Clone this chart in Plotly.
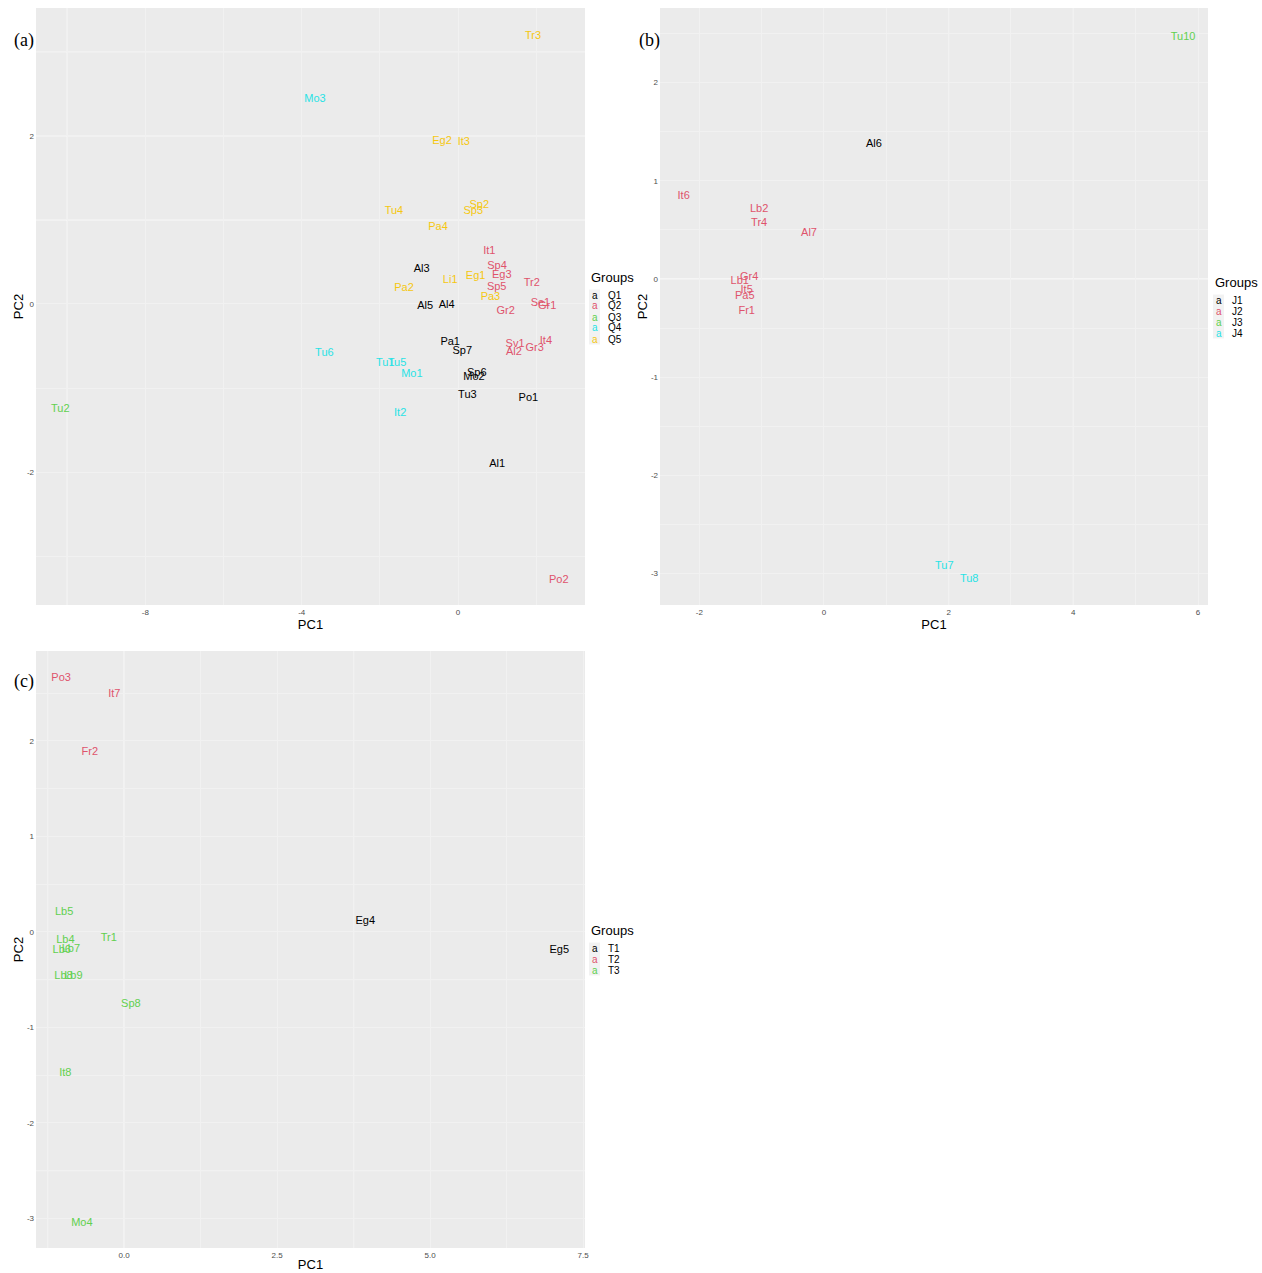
import plotly.graph_objects as go

W, H = 1262, 1273

# ---------------- data ----------------
# Panel (a)
a_labels = ["Al3", "Al5", "Al4", "Pa1", "Sp7", "Sp6", "Mo2", "Tu3", "Po1", "Al1",
            "It1", "Sp4", "Eg3", "Tr2", "Sp5", "Se1", "Gr1", "Gr2", "Sv1", "Al2", "Gr3", "It4", "Po2",
            "Tu2",
            "Mo3", "Tu6", "Tu1", "Tu5", "Mo1", "It2",
            "Tr3", "Eg2", "It3", "Tu4", "Sp2", "Sp3", "Pa4", "Eg1", "Li1", "Pa2", "Pa3"]
a_pc1 = [-0.93, -0.84, -0.29, -0.20, 0.11, 0.48, 0.41, 0.24, 1.80, 1.00,
         0.80, 1.00, 1.12, 1.89, 0.99, 2.11, 2.28, 1.22, 1.46, 1.43, 1.96, 2.25, 2.58,
         -10.18,
         -3.66, -3.42, -1.86, -1.56, -1.18, -1.48,
         1.92, -0.41, 0.15, -1.64, 0.545, 0.39, -0.51, 0.45, -0.20, -1.38, 0.83]
a_pc2 = [0.41, -0.03, -0.02, -0.45, -0.56, -0.82, -0.87, -1.085, -1.12, -1.91,
         0.63, 0.45, 0.34, 0.25, 0.20, 0.01, -0.03, -0.09, -0.48, -0.57, -0.53, -0.44, -3.28,
         -1.25,
         2.43, -0.58, -0.70, -0.70, -0.84, -1.30,
         3.18, 1.94, 1.92, 1.10, 1.18, 1.10, 0.91, 0.335, 0.28, 0.19, 0.085]
a_group = (["Q1"] * 10 + ["Q2"] * 13 + ["Q3"] * 1 + ["Q4"] * 6 + ["Q5"] * 11)
a_groups = ["Q1", "Q2", "Q3", "Q4", "Q5"]
a_colors = ["#000000", "#DF536B", "#61D04F", "#28E2E5", "#F5C710"]

# Panel (b)
b_labels = ["Al6", "It6", "Lb2", "Tr4", "Al7", "Gr4", "Lb1", "It5", "Pa5", "Fr1", "Tu10", "Tu7", "Tu8"]
b_pc1 = [0.80, -2.25, -1.04, -1.04, -0.24, -1.20, -1.35, -1.24, -1.27, -1.24, 5.76, 1.93, 2.33]
b_pc2 = [1.375, 0.845, 0.71, 0.57, 0.47, 0.02, -0.02, -0.11, -0.18, -0.33, 2.46, -2.93, -3.06]
b_group = ["J1"] + ["J2"] * 9 + ["J3"] + ["J4"] * 2
b_groups = ["J1", "J2", "J3", "J4"]
b_colors = ["#000000", "#DF536B", "#61D04F", "#28E2E5"]

# Panel (c)
c_labels = ["Eg4", "Eg5", "Po3", "It7", "Fr2",
            "Lb5", "Lb4", "Tr1", "Lb6", "Lb7", "Lb8", "Lb9", "Sp8", "It8", "Mo4"]
c_pc1 = [3.94, 7.11, -1.03, -0.16, -0.56,
         -0.98, -0.96, -0.25, -1.02, -0.87, -0.99, -0.83, 0.11, -0.96, -0.69]
c_pc2 = [0.115, -0.19, 2.65, 2.49, 1.885,
         0.21, -0.09, -0.07, -0.19, -0.18, -0.47, -0.47, -0.76, -1.48, -3.05]
c_group = ["T1"] * 2 + ["T2"] * 3 + ["T3"] * 10
c_groups = ["T1", "T2", "T3"]
c_colors = ["#000000", "#DF536B", "#61D04F"]

# ---------------- layout helpers ----------------
BG = "#EBEBEB"
FAINT = "#F1F1F1"
FONT = "Liberation Sans"


def px_x(p):
    return p / W


def px_y(p):
    return 1 - p / H


panels = [
    dict(key="", tag="(a)", labels=a_labels, pc1=a_pc1, pc2=a_pc2, group=a_group,
         groups=a_groups, colors=a_colors,
         box=(36, 585, 8, 605), xr=[-10.8, 3.25], yr=[-3.58, 3.52],
         xt=[-8, -4, 0], yt=[-2, 0, 2], xminor=2, yminor=1, xfmt="",
         strong_x=[-10], strong_y=[3, 2, 1],
         legend=(589, 277, 295), tagpos=(24, 41)),
    dict(key="2", tag="(b)", labels=b_labels, pc1=b_pc1, pc2=b_pc2, group=b_group,
         groups=b_groups, colors=b_colors,
         box=(660, 1208, 8, 605), xr=[-2.63, 6.16], yr=[-3.32, 2.76],
         xt=[-2, 0, 2, 4, 6], yt=[-3, -2, -1, 0, 1, 2], xminor=1, yminor=0.5, xfmt="",
         strong_x=[2, 4], strong_y=[2.5, 0, -2.5],
         legend=(1213, 282, 300), tagpos=(649, 40)),
    dict(key="3", tag="(c)", labels=c_labels, pc1=c_pc1, pc2=c_pc2, group=c_group,
         groups=c_groups, colors=c_colors,
         box=(36, 585, 651, 1248), xr=[-1.44, 7.53], yr=[-3.31, 2.94],
         xt=[0, 2.5, 5, 7.5], yt=[-3, -2, -1, 0, 1, 2], xminor=1.25, yminor=0.5, xfmt=".1f",
         strong_x=[-1.25, 3.75, 0], strong_y=[1.5, -0.5, -2.5],
         legend=(589, 930, 948), tagpos=(24, 682)),
]

fig = go.Figure()
annotations = []
shapes = []

for p in panels:
    k = p["key"]
    xa = "x" + k
    ya = "y" + k
    cmap = dict(zip(p["groups"], p["colors"]))
    for g in p["groups"]:
        idx = [i for i, gg in enumerate(p["group"]) if gg == g]
        fig.add_trace(go.Scatter(
            x=[p["pc1"][i] for i in idx],
            y=[p["pc2"][i] for i in idx],
            text=[p["labels"][i] for i in idx],
            mode="text",
            textposition="middle center",
            textfont=dict(family=FONT, size=11, color=cmap[g]),
            showlegend=False,
            xaxis=xa, yaxis=ya,
            hoverinfo="text",
        ))

    x0, x1, y0, y1 = p["box"]
    common = dict(showline=False, zeroline=False, showgrid=True, gridcolor=FAINT, gridwidth=1,
                  ticks="", ticklabelstandoff=1,
                  tickfont=dict(family=FONT, size=8, color="#4D4D4D"),
                  automargin=False, fixedrange=True)
    xaxis = dict(domain=[px_x(x0), px_x(x1)], range=p["xr"], tickmode="array",
                 tickvals=p["xt"],
                 ticktext=[format(v, p["xfmt"]) if p["xfmt"] else str(v) for v in p["xt"]],
                 anchor=ya,
                 minor=dict(dtick=p["xminor"], tick0=0, showgrid=True, gridcolor=FAINT, gridwidth=0.6,
                            ticks=""),
                 title=dict(text="PC1", font=dict(family=FONT, size=13, color="#000000"), standoff=0),
                 **common)
    yaxis = dict(domain=[px_y(y1), px_y(y0)], range=p["yr"], tickmode="array",
                 tickvals=p["yt"], ticktext=[str(v) for v in p["yt"]],
                 anchor=xa,
                 minor=dict(dtick=p["yminor"], tick0=0, showgrid=True, gridcolor=FAINT, gridwidth=0.6,
                            ticks=""),
                 title=dict(text="PC2", font=dict(family=FONT, size=13, color="#000000"), standoff=0),
                 **common)
    fig.update_layout(**{"xaxis" + k: xaxis, "yaxis" + k: yaxis})

    # panel background
    shapes.append(dict(type="rect", xref="paper", yref="paper",
                       x0=px_x(x0), x1=px_x(x1), y0=px_y(y1), y1=px_y(y0),
                       fillcolor=BG, line=dict(width=0), layer="below"))
    # brighter grid lines (as rendered in the reference)
    for v in p["strong_x"]:
        shapes.append(dict(type="line", xref=xa, yref=ya + " domain", x0=v, x1=v, y0=0, y1=1,
                           line=dict(color="#FFFFFF", width=1), layer="below"))
    for v in p["strong_y"]:
        shapes.append(dict(type="line", xref=xa + " domain", yref=ya, x0=0, x1=1, y0=v, y1=v,
                           line=dict(color="#FFFFFF", width=1), layer="below"))

    # panel tag
    tx, ty = p["tagpos"]
    annotations.append(dict(xref="paper", yref="paper", x=px_x(tx), y=px_y(ty), text=p["tag"],
                            showarrow=False, xanchor="center", yanchor="middle",
                            font=dict(family="Liberation Serif", size=18, color="#000000")))

    # legend (ggplot style)
    lx, ly_title, ly0 = p["legend"]
    annotations.append(dict(xref="paper", yref="paper", x=px_x(lx), y=px_y(ly_title), text="Groups",
                            showarrow=False, xanchor="left", yanchor="middle",
                            font=dict(family=FONT, size=13, color="#000000")))
    n = len(p["groups"])
    shapes.append(dict(type="rect", xref="paper", yref="paper",
                       x0=px_x(lx), x1=px_x(lx + 11), y0=px_y(ly0 + 11 * (n - 1) + 5.5),
                       y1=px_y(ly0 - 5.5), fillcolor="#F2F2F2", line=dict(width=0)))
    for i, (g, c) in enumerate(zip(p["groups"], p["colors"])):
        yy = px_y(ly0 + 11 * i)
        annotations.append(dict(xref="paper", yref="paper", x=px_x(lx + 5.5), y=yy, text="a",
                                showarrow=False, xanchor="center", yanchor="middle",
                                font=dict(family=FONT, size=10, color=c)))
        annotations.append(dict(xref="paper", yref="paper", x=px_x(lx + 17), y=yy, text=g,
                                showarrow=False, xanchor="left", yanchor="middle",
                                font=dict(family=FONT, size=10, color="#000000")))

fig.update_layout(
    width=W, height=H,
    margin=dict(l=0, r=0, t=0, b=0),
    paper_bgcolor="#FFFFFF",
    plot_bgcolor="rgba(0,0,0,0)",
    showlegend=False,
    annotations=annotations,
    shapes=shapes,
    font=dict(family=FONT),
)

fig.write_html(
    "out.html",
    config={"displayModeBar": False},
    post_script="document.body.style.margin='0';document.body.style.overflow='hidden';",
)
